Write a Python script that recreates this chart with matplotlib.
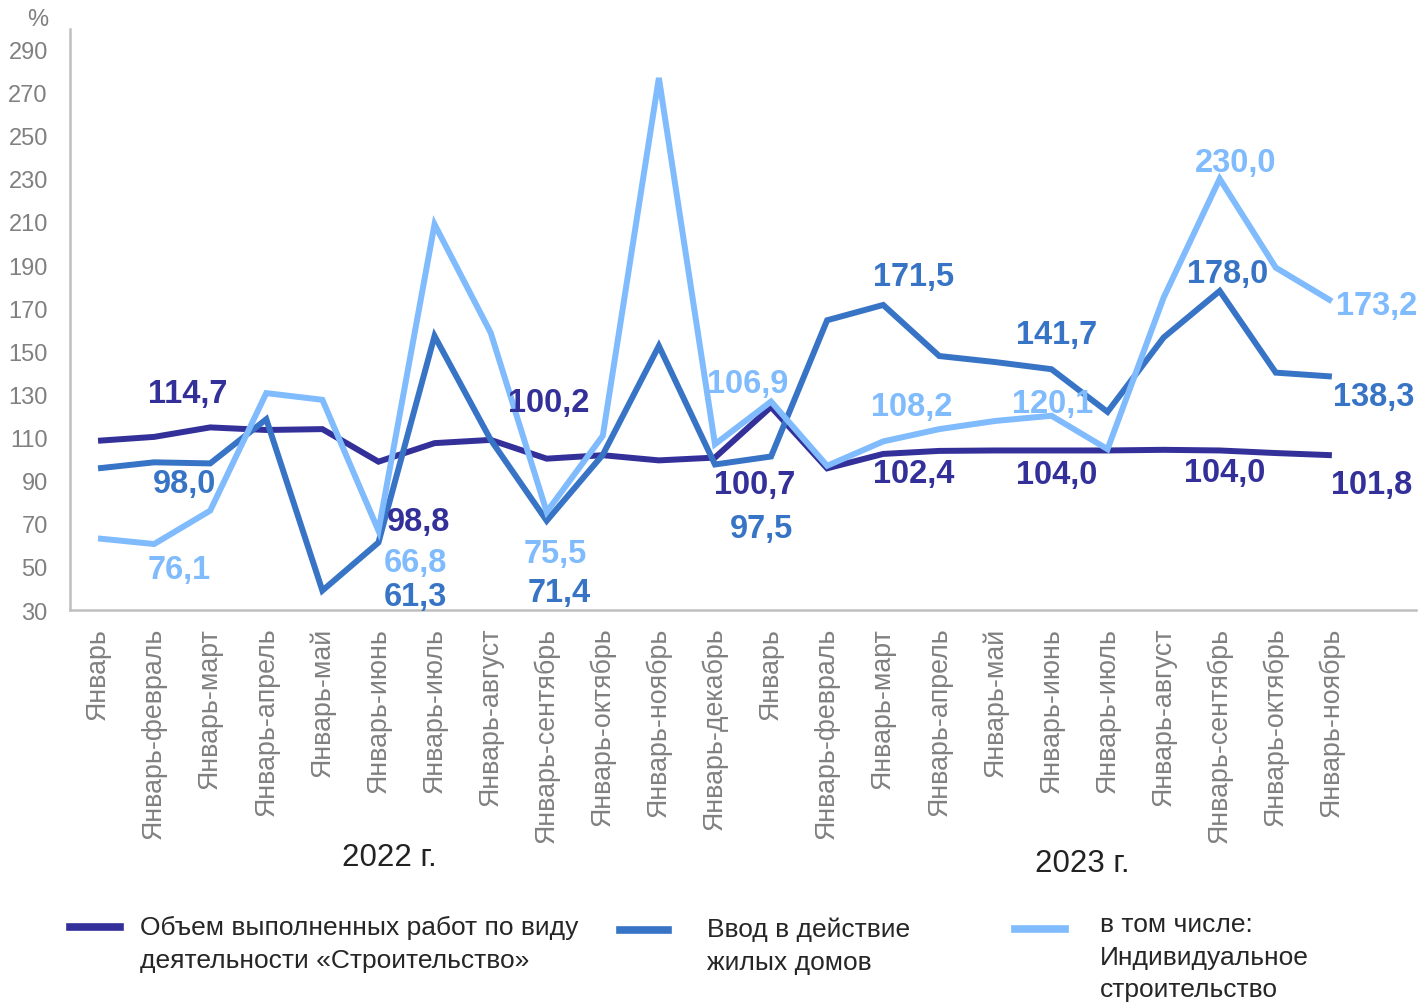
import matplotlib
matplotlib.use("Agg")
import matplotlib.pyplot as plt
from matplotlib.lines import Line2D

plt.rcParams['font.family'] = ['Liberation Sans', 'DejaVu Sans']

# ---------------- data ----------------
months_2022 = ["Январь", "Январь-февраль", "Январь-март", "Январь-апрель", "Январь-май",
               "Январь-июнь", "Январь-июль", "Январь-август", "Январь-сентябрь",
               "Январь-октябрь", "Январь-ноябрь", "Январь-декабрь"]
months_2023 = ["Январь", "Январь-февраль", "Январь-март", "Январь-апрель", "Январь-май",
               "Январь-июнь", "Январь-июль", "Январь-август", "Январь-сентябрь",
               "Январь-октябрь", "Январь-ноябрь"]
categories = months_2022 + months_2023

construction = [108.5, 110.3, 114.7, 113.5, 113.9, 98.8, 107.4, 108.9, 100.2, 101.8, 99.4, 100.7,
                124.2, 95.7, 102.4, 103.8, 104.0, 104.0, 104.0, 104.3, 104.0, 102.8, 101.8]
housing = [95.7, 98.5, 98.0, 118.5, 39.0, 61.3, 157.1, 109.0, 71.4, 102.0, 152.5, 97.5,
           101.2, 164.4, 171.5, 147.8, 145.0, 141.7, 121.9, 156.4, 178.0, 140.1, 138.3]
individual = [63.2, 60.6, 76.1, 130.6, 127.5, 66.8, 208.9, 158.7, 75.5, 110.8, 276.8, 106.9,
              126.7, 96.9, 108.2, 113.9, 117.7, 120.1, 104.6, 174.9, 230.0, 188.8, 173.2]

series_names = ["Объем выполненных работ по виду\nдеятельности «Строительство»",
                "Ввод в действие\nжилых домов",
                "в том числе:\nИндивидуальное\nстроительство"]

year_labels = ["2022 г.", "2023 г."]
y_ticks = list(range(30, 300, 20))

# indices of labelled points per series
construction_lab = [2, 5, 8, 11, 14, 17, 20, 22]
housing_lab = [2, 5, 8, 11, 14, 17, 20, 22]
individual_lab = [2, 5, 8, 11, 14, 17, 20, 22]

# ---------------- styling ----------------
colors = ["#33309A", "#3874C6", "#7FBBFD"]
# label offsets in pixels (dx, dy) relative to data point
construction_off = [(-23, 34), (40, -60), (2, 56), (40, -27), (30, -20), (5, -24), (5, -22), (40, -29)]
housing_off = [(-26, -20), (37, -54), (12, -72), (47, -64), (30, 28), (5, 35), (8, 17), (42, -20)]
individual_off = [(-31, -59), (37, -32), (9, -42), (33, 61), (28, 35), (1, 12), (16, 16), (45, -4)]

W, H = 1419, 1003
fig = plt.figure(figsize=(W / 100, H / 100), dpi=100)
ax = fig.add_axes([70 / W, 1 - 611 / H, (1416 - 70) / W, (611 - 30) / H])

x = list(range(len(categories)))
all_series = [construction, housing, individual]
all_lab = [construction_lab, housing_lab, individual_lab]
all_off = [construction_off, housing_off, individual_off]

for vals, c in zip(all_series, colors):
    ax.plot(x, vals, color=c, lw=4.3, solid_joinstyle='miter', solid_capstyle='butt', zorder=3)

for vals, c, idxs, offs in zip(all_series, colors, all_lab, all_off):
    for i, (dx, dy) in zip(idxs, offs):
        ax.annotate(f"{vals[i]:.1f}".replace('.', ','), (x[i], vals[i]),
                    xytext=(dx, dy), textcoords='offset pixels',
                    ha='center', va='center', fontsize=23.5, fontweight='bold',
                    color=c, zorder=4, annotation_clip=False)

ax.set_xlim(-0.5, 23.5)
ax.set_ylim(30, 299.5)
ax.set_yticks(y_ticks)
ax.set_xticks(x)
ax.set_xticklabels(categories, rotation=90, va='top', ha='center')
ax.tick_params(axis='y', length=0, pad=16, labelsize=17, labelcolor='#808080')
ax.tick_params(axis='x', length=0, pad=12, labelsize=19.3, labelcolor='#808080')
for s in ['top', 'right']:
    ax.spines[s].set_visible(False)
for s in ['left', 'bottom']:
    ax.spines[s].set_color('#BFBFBF')
    ax.spines[s].set_linewidth(1.8)

def fx(px):
    return px / W

def fy(py):
    return 1 - py / H

fig.text(fx(38), fy(20), "%", ha='center', va='center', fontsize=17, color='#808080')
fig.text(fx(389), fy(858), year_labels[0], ha='center', va='center', fontsize=22.5, color='#222222')
fig.text(fx(1082), fy(864), year_labels[1], ha='center', va='center', fontsize=22.5, color='#222222')

# legend (manual)
leg_handles = [(70, 120, 928), (620, 668, 931), (1015, 1065, 930)]
leg_text = [(140, 916), (707, 918), (1100, 913)]
for (x0, x1, yy), (tx, ty), c, name in zip(leg_handles, leg_text, colors, series_names):
    fig.add_artist(Line2D([fx(x0), fx(x1)], [fy(yy), fy(yy)], color=c, lw=5.5,
                          transform=fig.transFigure))
    fig.text(fx(tx), fy(ty), name, ha='left', va='top', fontsize=19, color='#262626',
             linespacing=1.46)

fig.savefig("out.png", dpi=100)
